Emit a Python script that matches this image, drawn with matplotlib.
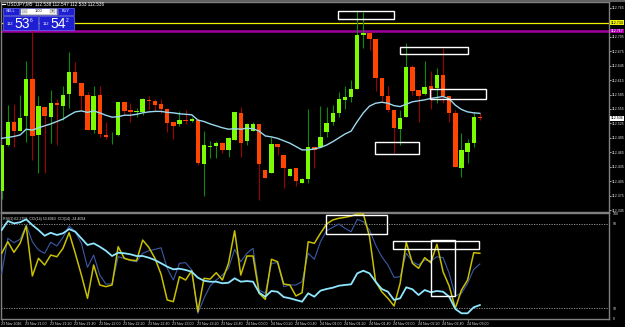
import matplotlib
matplotlib.use("Agg")
import matplotlib.pyplot as plt
from matplotlib.patches import Rectangle
import matplotlib.transforms as mtransforms

# ---------------- data ----------------
opens = [112.385,112.480,112.528,112.509,112.540,112.617,112.501,112.559,112.539,112.568,
         112.562,112.587,112.631,112.610,112.584,112.512,112.584,112.501,112.500,112.500,
         112.569,112.553,112.548,112.548,112.574,112.572,112.565,112.556,112.528,112.523,
         112.533,112.531,112.532,112.441,112.475,112.479,112.485,112.470,112.491,112.547,
         112.489,112.509,112.523,112.428,112.421,112.482,112.459,112.416,112.433,112.402,
         112.410,112.475,112.475,112.507,112.527,112.546,112.574,112.579,112.596,112.708,
         112.712,112.701,112.619,112.582,112.553,112.513,112.539,112.642,112.595,112.586,
         112.603,112.598,112.626,112.581,112.547,112.433,112.466,112.484,112.538]
highs = [112.480,112.563,112.565,112.584,112.655,112.730,112.581,112.559,112.595,112.575,
         112.603,112.674,112.653,112.610,112.591,112.603,112.603,112.527,112.508,112.570,
         112.570,112.567,112.557,112.577,112.582,112.576,112.575,112.557,112.528,112.551,
         112.553,112.539,112.534,112.509,112.488,112.489,112.486,112.497,112.549,112.560,
         112.525,112.529,112.524,112.428,112.497,112.482,112.459,112.433,112.433,112.411,
         112.556,112.476,112.561,112.560,112.563,112.591,112.603,112.615,112.761,112.757,
         112.717,112.701,112.619,112.603,112.553,112.553,112.692,112.646,112.595,112.655,
         112.635,112.640,112.681,112.581,112.553,112.506,112.493,112.549,112.547]
lows = [112.368,112.478,112.477,112.509,112.487,112.448,112.422,112.421,112.484,112.480,
        112.532,112.557,112.609,112.553,112.511,112.505,112.497,112.493,112.482,112.499,
        112.542,112.529,112.539,112.542,112.553,112.551,112.547,112.508,112.493,112.520,
        112.524,112.527,112.439,112.374,112.453,112.453,112.464,112.456,112.491,112.456,
        112.480,112.509,112.366,112.412,112.421,112.459,112.390,112.416,112.395,112.401,
        112.402,112.433,112.475,112.496,112.522,112.539,112.556,112.570,112.596,112.681,
        112.678,112.593,112.570,112.549,112.464,112.480,112.539,112.584,112.527,112.584,
        112.556,112.568,112.567,112.527,112.435,112.413,112.443,112.477,112.533]
closes = [112.480,112.527,112.509,112.536,112.617,112.499,112.561,112.540,112.568,112.564,
          112.584,112.632,112.610,112.583,112.512,112.582,112.503,112.497,112.501,112.569,
          112.551,112.549,112.551,112.576,112.571,112.563,112.555,112.525,112.520,112.532,
          112.530,112.534,112.442,112.480,112.478,112.484,112.470,112.494,112.548,112.485,
          112.523,112.523,112.441,112.412,112.482,112.475,112.432,112.430,112.405,112.409,
          112.475,112.470,112.496,112.525,112.547,112.576,112.579,112.597,112.709,112.714,
          112.700,112.619,112.582,112.553,112.515,112.536,112.642,112.593,112.582,112.601,
          112.595,112.626,112.581,112.546,112.435,112.470,112.484,112.538,112.536]
ma = [112.494,112.496,112.498,112.501,112.513,112.511,112.516,112.520,112.524,112.529,
      112.534,112.542,112.549,112.551,112.548,112.551,112.547,112.542,112.538,112.539,
      112.542,112.542,112.544,112.547,112.549,112.550,112.550,112.548,112.547,112.545,
      112.544,112.543,112.532,112.529,112.524,112.520,112.516,112.513,112.514,112.513,
      112.515,112.514,112.509,112.499,112.497,112.494,112.489,112.484,112.477,112.470,
      112.470,112.472,112.475,112.480,112.487,112.495,112.503,112.509,112.529,112.547,
      112.561,112.567,112.569,112.567,112.562,112.560,112.565,112.570,112.572,112.574,
      112.577,112.579,112.581,112.576,112.563,112.554,112.549,112.547,112.546]
rsi_fast = [62.2,73.1,63.1,71.6,88.0,40.7,57.4,51.1,60.5,58.9,
            66.9,81.6,62.2,41.6,19.6,51.1,32.2,30.6,32.2,68.4,
            57.4,55.8,55.2,74.7,67.8,57.4,42.3,18.0,16.4,40.0,
            36.9,45.7,6.9,38.5,37.8,43.8,36.9,52.7,83.5,41.6,
            59.6,59.6,24.3,18.6,56.5,54.2,33.1,32.2,21.8,24.9,
            73.1,71.6,81.1,89.9,93.7,95.3,96.2,97.4,99.3,99.3,
            77.9,35.3,25.8,19.6,12.3,33.8,72.6,52.7,48.0,58.0,
            53.3,70.7,44.7,31.2,10.1,27.4,36.9,62.7,62.2]
osc_mid = [43.2,76.3,72.2,75.4,88.9,73.1,65.3,62.2,72.6,69.1,
           77.3,88.0,82.6,71.6,48.9,60.5,41.6,33.1,33.1,58.9,
           57.4,55.2,54.2,62.2,64.6,65.9,67.4,48.0,36.9,52.7,
           53.3,46.4,5.4,19.6,31.2,36.9,41.6,48.0,65.9,54.2,
           62.2,66.9,27.4,24.3,52.7,53.3,30.6,32.2,32.2,35.3,
           62.2,56.5,73.1,83.5,86.7,89.9,85.8,82.6,94.3,92.0,
           84.2,70.0,58.9,51.1,39.4,40.0,62.2,54.2,51.1,55.8,
           54.9,58.9,58.0,43.2,21.8,24.3,33.8,47.0,52.0]
osc_slow = [84.2,92.7,90.5,91.5,94.3,88.9,84.2,78.8,81.6,79.5,
            81.1,85.1,82.6,76.3,70.0,71.6,68.4,64.6,59.6,62.7,
            62.2,61.2,59.6,59.6,58.0,55.8,52.7,49.5,47.0,47.6,
            46.4,44.7,39.1,36.2,35.3,35.3,33.8,34.3,38.5,35.3,
            35.9,35.3,24.9,21.1,26.5,25.8,20.8,19.6,18.0,16.4,
            24.3,21.1,26.8,28.4,29.6,31.5,32.2,32.8,43.2,45.7,
            43.2,35.3,28.4,25.8,18.0,19.6,30.0,28.1,22.7,27.4,
            25.3,26.5,25.8,21.1,9.5,5.4,5.4,11.1,13.2]

time_labels = ["23 Nov 2016", "23 Nov 21:00", "23 Nov 21:20", "23 Nov 21:40", "23 Nov 22:00",
               "23 Nov 22:20", "23 Nov 22:40", "23 Nov 23:00", "23 Nov 23:20", "23 Nov 23:40",
               "24 Nov 00:00", "24 Nov 00:20", "24 Nov 00:40", "24 Nov 01:00", "24 Nov 01:20",
               "24 Nov 01:40", "24 Nov 02:00", "24 Nov 02:20", "24 Nov 02:40", "24 Nov 03:00"]
time_label_bars = [0, 4, 8, 12, 16, 20, 24, 28, 32, 36, 40, 44, 48, 52, 56, 60, 64, 68, 72, 76]
price_ticks = [112.765, 112.705, 112.675, 112.645, 112.615, 112.585, 112.555, 112.525,
               112.495, 112.465, 112.435, 112.405, 112.375, 112.345]
level_yellow = 112.734
level_magenta = 112.717
last_price = 112.536
ind_levels = [90, 10]
# user-drawn rectangles (bar index from, to, value low, high)
price_boxes = [(54.9, 64.0, 112.742, 112.759), (65.0, 76.1, 112.669, 112.683),
               (69.9, 79.0, 112.575, 112.596), (60.9, 68.0, 112.461, 112.486)]
ind_boxes = [(52.9, 62.9, 80.1, 98.4), (63.9, 77.9, 65.9, 73.8), (70.0, 73.9, 21.8, 74.7)]

title_text = "USDJPY,M5  112.538 112.547 112.533 112.536"
ind_text = "RSI(3) 62.2758  CCI(14) 53.6063  CCI(14) -24.4094"

# ---------------- style ----------------
W, H = 625, 327
BG = "black"
GRID = "#808080"
BULL = "#7CFC00"
BULL_W = "#0C8A0C"
BEAR = "#FF4500"
BEAR_W = "#A00000"
FONT = "Liberation Sans"

fig = plt.figure(figsize=(W / 100, H / 100), dpi=100, facecolor=BG)


def frac(x0, y0, x1, y1):
    return [x0 / W, 1 - y1 / H, (x1 - x0) / W, (y1 - y0) / H]


ax = fig.add_axes(frac(1, 2, 609, 212))
ax2 = fig.add_axes(frac(1, 213, 609, 319))
X_LO, X_HI = -0.114, 99.07

for a in (ax, ax2):
    a.set_facecolor(BG)
    a.set_xlim(X_LO, X_HI)
    for s in a.spines.values():
        s.set_color(GRID)
        s.set_linewidth(1.0)
    a.tick_params(axis="x", bottom=False, labelbottom=False)

ax.set_ylim(112.3409, 112.7774)
ax2.set_ylim(0, 100.3)

# candles
n = len(opens)
idx = list(range(n))
for i in idx:
    o, h, l, c = opens[i], highs[i], lows[i], closes[i]
    bull = c >= o
    ax.vlines(i, l, h, color=BULL_W if bull else BEAR_W, linewidth=0.8, zorder=2)
    lo_b = min(o, c)
    hgt = max(abs(c - o), 0.0013)
    ax.bar(i, hgt, bottom=lo_b, width=0.72, color=BULL if bull else BEAR,
           linewidth=0, zorder=3)

ax.plot(idx, ma, color="#9AD8EE", linewidth=1.0, zorder=4)

# horizontal levels
ax.axhline(level_yellow, color="#F0F000", linewidth=0.9, zorder=1)
ax.axhline(level_magenta, color="#A000A0", linewidth=1.8, zorder=1)

for (x0, x1, y0, y1) in price_boxes:
    ax.add_patch(Rectangle((x0, y0), x1 - x0, y1 - y0, fill=False,
                           edgecolor="white", linewidth=1.0, zorder=5))

# right price axis
ax.yaxis.tick_right()
ax.set_yticks(price_ticks)
ax.set_yticklabels([f"{p:.3f}" for p in price_ticks])
ax.tick_params(axis="y", colors="#D0D0D0", labelsize=2.6, length=1.2, width=0.6, pad=0.6,
               labelcolor="#E0E0E0")
for t in ax.get_yticklabels():
    t.set_fontfamily(FONT)

tr = mtransforms.blended_transform_factory(ax.transAxes, ax.transData)
for val, fc, tc in [(level_yellow, "#F0F000", "black"), (level_magenta, "#B000B0", "white"),
                    (last_price, "white", "black")]:
    ax.text(1.0025, val, f"{val:.3f}", transform=tr, ha="left", va="center", fontsize=2.6,
            family=FONT, color=tc, clip_on=False,
            bbox=dict(boxstyle="square,pad=0.12", fc=fc, ec="none"))

# indicator panel
ax2.plot(idx, osc_mid, color="#3A5AA8", linewidth=0.8, zorder=3)
ax2.plot(idx, rsi_fast, color="#C8C000", linewidth=1.1, zorder=4)
ax2.plot(idx, osc_slow, color="#8FE6FF", linewidth=1.3, zorder=5)
for lv in ind_levels:
    ax2.axhline(lv, color="#A0A0A0", linewidth=0.6, linestyle=(0, (1.5, 1.5)), zorder=1)
for (x0, x1, y0, y1) in ind_boxes:
    ax2.add_patch(Rectangle((x0, y0), x1 - x0, y1 - y0, fill=False,
                            edgecolor="white", linewidth=1.0, zorder=6))
ax2.yaxis.tick_right()
ax2.set_yticks([100] + ind_levels + [0])
ax2.set_yticklabels(["100", "90", "10", "0"])
ax2.tick_params(axis="y", colors="#D0D0D0", labelsize=2.6, length=0, pad=3,
                labelcolor="#E0E0E0")
for t in ax2.get_yticklabels():
    t.set_fontfamily(FONT)
ax2.text(0.003, 0.965, ind_text, transform=ax2.transAxes, ha="left", va="top",
         fontsize=2.6, family=FONT, color="#E0E0E0")

# time labels
trx = mtransforms.blended_transform_factory(ax2.transData, ax2.transAxes)
for b, lab in zip(time_label_bars, time_labels):
    ax2.vlines(b, -0.03, 0.0, transform=trx, color=GRID, linewidth=0.5, clip_on=False)
    ax2.text(b - 0.15, -0.03, lab, transform=trx, ha="left", va="top", fontsize=2.6,
             family=FONT, color="#E0E0E0", clip_on=False)

# overlay for one-click trading panel and header (pixel coordinates)
ov = fig.add_axes([0, 0, 1, 1], facecolor="none")
ov.set_xlim(0, W)
ov.set_ylim(H, 0)
ov.axis("off")
ov.text(7, 4.2, title_text, ha="left", va="center", fontsize=3.3, family=FONT, color="white")
ov.plot([2, 5], [4.2, 4.2], color="white", linewidth=0.8)
BLUE = "#1E1ED2"
EDGE = "#6A6AFF"
ov.add_patch(Rectangle((3, 7.5), 16, 7, fc=BLUE, ec=EDGE, lw=0.5))
ov.text(11, 11, "SELL", ha="center", va="center", fontsize=2.8, family=FONT, color="white")
ov.add_patch(Rectangle((57.5, 7.5), 16, 7, fc=BLUE, ec=EDGE, lw=0.5))
ov.text(65.5, 11, "BUY", ha="center", va="center", fontsize=2.8, family=FONT, color="white")
ov.add_patch(Rectangle((19.5, 7.5), 37.5, 7, fc="#C8C8C8", ec=EDGE, lw=0.4))
ov.add_patch(Rectangle((21, 8.5), 34.5, 5, fc="white", ec="none"))
ov.add_patch(Rectangle((21.5, 9), 5, 4, fc="#D8D8D8", ec="#909090", lw=0.3))
ov.add_patch(Rectangle((50, 9), 5, 4, fc="#D8D8D8", ec="#909090", lw=0.3))
ov.text(24, 11, "-", ha="center", va="center", fontsize=2.8, color="black")
ov.text(52.5, 11, "+", ha="center", va="center", fontsize=2.8, color="black")
ov.text(38, 11, "1.00", ha="center", va="center", fontsize=2.8, family=FONT, color="black")
for x0, big, sup in [(3, "53", "6"), (39, "54", "2")]:
    ov.add_patch(Rectangle((x0, 15.5), 35, 14, fc=BLUE, ec=EDGE, lw=0.5))
    ov.text(x0 + 4, 25, "112", ha="left", va="baseline", fontsize=3.0, family=FONT, color="white")
    ov.text(x0 + 11.5, 27.5, big, ha="left", va="baseline", fontsize=10, family=FONT, color="white")
    ov.text(x0 + 27, 20, sup, ha="left", va="center", fontsize=3.5, family=FONT, color="white")
ov.add_patch(Rectangle((0, 0), W, 1.5, fc="#606060", ec="none"))

fig.savefig("out.png", dpi=100, facecolor=BG)
